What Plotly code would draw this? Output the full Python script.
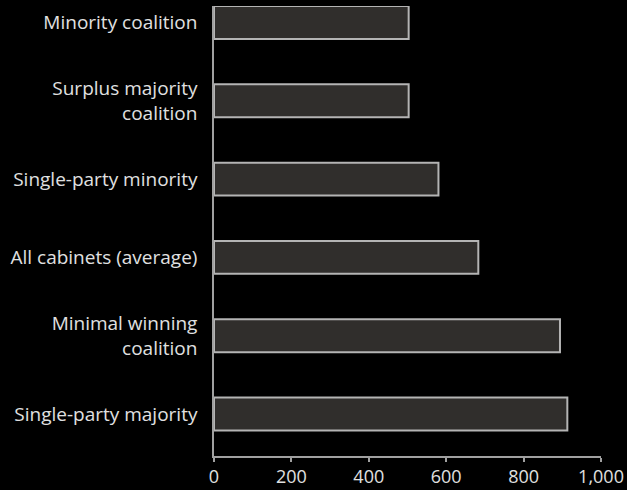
import plotly.graph_objects as go

categories = ["Single-party majority", "Minimal winning<br>coalition", "All cabinets (average)",
              "Single-party minority", "Surplus majority<br>coalition", "Minority coalition"]
values = [913, 894, 683, 580, 503, 503]
tick_vals = [0, 200, 400, 600, 800, 1000]
tick_text = ["0", "200", "400", "600", "800", "1,000"]

fig = go.Figure(go.Bar(
    y=categories, x=values, orientation="h",
    marker=dict(color="#302e2c", line=dict(color="#b4b4b4", width=2)),
    hoverinfo="skip",
))

font = dict(family="Open Sans, Noto Sans, sans-serif", size=19, color="#e0e0e0")
xfont = dict(family="Open Sans, Noto Sans, sans-serif", size=18, color="#e0e0e0")
fig.update_layout(
    width=627, height=490,
    paper_bgcolor="black", plot_bgcolor="black",
    margin=dict(l=214, r=26, t=6, b=34),
    bargap=0.58,
    showlegend=False,
    font=font,
    xaxis=dict(range=[0, 1000], tickvals=tick_vals, ticktext=tick_text, automargin=False,
               showgrid=False, zeroline=False, showline=True, linecolor="#a0a0a0", linewidth=1.5,
               ticks="outside", ticklen=4, tickcolor="#a0a0a0", tickwidth=1.5,
               tickfont=xfont),
    yaxis=dict(range=[-0.536, 5.21], showgrid=False, zeroline=False, showline=True,
               automargin=False,
               linecolor="#a0a0a0", linewidth=1.5, ticks="", ticklabelstandoff=11,
               tickfont=font),
)
fig.write_html("out.html", config={"displayModeBar": False},
               post_script="document.body.style.margin='0';document.body.style.background='black';")
